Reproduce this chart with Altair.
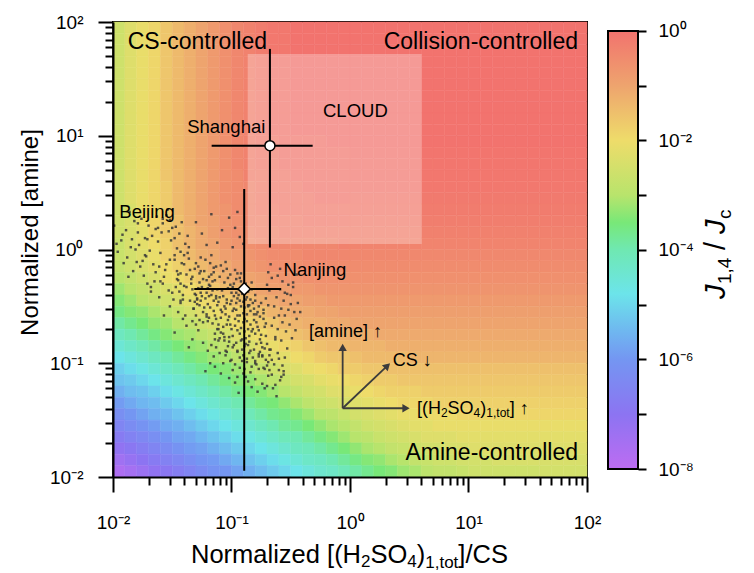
import altair as alt
import pandas as pd

FONT = "Liberation Sans"

# ---------------- heat map: log10(J1,4/Jc) read at 0.1-decade cell centres ----------------
cell_log_x = [round(-1.95 + 0.1 * i, 2) for i in range(40)]          # column centres
cell_log_y = [round(1.95 - 0.1 * i, 2) for i in range(40)]           # row centres, top -> bottom
cell_half = 0.05

top_row = [-2.6, -2.3, -2.1, -1.9, -1.6, -1.4, -1.2, -1.0, -0.8, -0.6,
           -0.4, -0.3, -0.2, -0.1, -0.1, 0.0, 0.0, 0.0, 0.0, 0.0] + [0.0] * 20
cell_values = [top_row] * 10 + [
    [-2.6, -2.3, -2.1, -1.9, -1.6, -1.4, -1.2, -1.0, -0.8, -0.6, -0.4, -0.3, -0.2, -0.2, -0.1, -0.1, -0.1, -0.1, 0.0, 0.0] + [0.0] * 20,
    [-2.6, -2.3, -2.1, -1.9, -1.6, -1.4, -1.2, -1.0, -0.8, -0.6, -0.4, -0.3, -0.2, -0.2, -0.1, -0.1, -0.1, -0.1, -0.1, -0.1] + [-0.05] * 20,
    [-2.6, -2.3, -2.1, -1.9, -1.6, -1.4, -1.2, -1.0, -0.8, -0.6, -0.4, -0.3, -0.2, -0.2, -0.1, -0.1, -0.1, -0.1, -0.1, -0.1] + [-0.07] * 20,
    [-2.6, -2.3, -2.1, -1.9, -1.6, -1.4, -1.2, -1.0, -0.8, -0.6, -0.5, -0.3, -0.3, -0.2, -0.2, -0.1, -0.1, -0.1, -0.1, -0.1] + [-0.09] * 20,
    [-2.6, -2.3, -2.1, -1.9, -1.7, -1.4, -1.2, -1.0, -0.8, -0.6, -0.5, -0.4, -0.3, -0.2, -0.2, -0.2, -0.1, -0.1, -0.1, -0.1] + [-0.11] * 20,
    [-2.6, -2.3, -2.1, -1.9, -1.7, -1.4, -1.2, -1.0, -0.8, -0.6, -0.5, -0.4, -0.3, -0.2, -0.2, -0.2, -0.2, -0.1, -0.1, -0.1] + [-0.14] * 20,
    [-2.6, -2.4, -2.1, -1.9, -1.7, -1.4, -1.2, -1.0, -0.8, -0.7, -0.5, -0.4, -0.3, -0.3, -0.2, -0.2, -0.2, -0.2, -0.2, -0.2] + [-0.18] * 20,
    [-2.6, -2.4, -2.1, -1.9, -1.7, -1.5, -1.2, -1.0, -0.9, -0.7, -0.6, -0.4, -0.4, -0.3, -0.3, -0.3, -0.2, -0.2, -0.2, -0.2] + [-0.23] * 20,
    [-2.6, -2.4, -2.2, -1.9, -1.7, -1.5, -1.3, -1.1, -0.9, -0.7, -0.6, -0.5, -0.4, -0.4, -0.3, -0.3, -0.3, -0.3, -0.3, -0.3] + [-0.28] * 20,
    [-2.7, -2.4, -2.2, -2.0, -1.8, -1.5, -1.3, -1.1, -1.0, -0.8, -0.7, -0.6, -0.5, -0.4, -0.4, -0.4, -0.4, -0.4, -0.4, -0.3] + [-0.34] * 20,
    [-2.7, -2.5, -2.3, -2.1, -1.8, -1.6, -1.4, -1.2, -1.1, -0.9, -0.8, -0.7, -0.6, -0.5, -0.5, -0.5, -0.4, -0.4, -0.4, -0.4] + [-0.42] * 20,
    [-2.8, -2.6, -2.4, -2.2, -2.0, -1.8, -1.6, -1.4, -1.2, -1.1, -0.9, -0.8, -0.7, -0.6, -0.6, -0.6, -0.5, -0.5, -0.5, -0.5] + [-0.5] * 20,
    [-3.0, -2.8, -2.6, -2.4, -2.1, -2.0, -1.8, -1.6, -1.4, -1.2, -1.1, -1.0, -0.9, -0.8, -0.7, -0.7, -0.6, -0.6, -0.6, -0.6] + [-0.59] * 20,
    [-3.2, -3.0, -2.8, -2.6, -2.4, -2.2, -2.0, -1.8, -1.6, -1.4, -1.3, -1.2, -1.0, -0.9, -0.9, -0.8, -0.8, -0.7, -0.7, -0.7] + [-0.68] * 20,
    [-3.4, -3.2, -3.0, -2.8, -2.6, -2.4, -2.2, -2.0, -1.9, -1.7, -1.5, -1.4, -1.2, -1.1, -1.0, -1.0, -0.9, -0.9, -0.8, -0.8] + [-0.79] * 20,
    [-3.6, -3.4, -3.3, -3.1, -2.9, -2.7, -2.5, -2.3, -2.1, -1.9, -1.8, -1.6, -1.5, -1.3, -1.2, -1.1, -1.1, -1.0, -1.0, -0.9] + [-0.9] * 20,
    [-3.9, -3.7, -3.5, -3.3, -3.2, -3.0, -2.8, -2.6, -2.4, -2.2, -2.0, -1.9, -1.7, -1.6, -1.4, -1.3, -1.2, -1.2, -1.1, -1.1] + [-1.0] * 20,
    [-4.2, -4.0, -3.8, -3.6, -3.4, -3.2, -3.1, -2.9, -2.7, -2.5, -2.3, -2.1, -2.0, -1.8, -1.7, -1.5, -1.4, -1.3, -1.3, -1.2] + [-1.2, -1.2] + [-1.1] * 18,
    [-4.5, -4.3, -4.1, -3.9, -3.7, -3.5, -3.3, -3.2, -3.0, -2.8, -2.6, -2.4, -2.2, -2.1, -1.9, -1.8, -1.6, -1.5, -1.4, -1.4] + [-1.3, -1.3, -1.3] + [-1.2] * 17,
    [-4.8, -4.6, -4.4, -4.2, -4.0, -3.8, -3.6, -3.4, -3.2, -3.1, -2.9, -2.7, -2.5, -2.3, -2.2, -2.0, -1.9, -1.7, -1.6, -1.6] + [-1.5, -1.4, -1.4, -1.4, -1.4] + [-1.3] * 15,
    [-5.1, -4.9, -4.7, -4.5, -4.3, -4.1, -3.9, -3.7, -3.5, -3.4, -3.2, -3.0, -2.8, -2.6, -2.4, -2.3, -2.1, -2.0, -1.9, -1.7] + [-1.7, -1.6, -1.6] + [-1.5] * 17,
    [-5.3, -5.2, -5.0, -4.8, -4.6, -4.4, -4.2, -4.0, -3.8, -3.6, -3.4, -3.3, -3.1, -2.9, -2.7, -2.5, -2.4, -2.2, -2.1, -2.0] + [-1.9, -1.8, -1.7, -1.7] + [-1.6] * 16,
    [-5.6, -5.4, -5.3, -5.1, -4.9, -4.7, -4.5, -4.3, -4.1, -3.9, -3.7, -3.5, -3.4, -3.2, -3.0, -2.8, -2.6, -2.5, -2.3, -2.2] + [-2.1, -2.0, -1.9, -1.8, -1.8, -1.8] + [-1.7] * 14,
    [-5.9, -5.7, -5.5, -5.4, -5.2, -5.0, -4.8, -4.6, -4.4, -4.2, -4.0, -3.8, -3.6, -3.5, -3.3, -3.1, -2.9, -2.7, -2.6, -2.4] + [-2.3, -2.2, -2.1, -2.0, -1.9, -1.9, -1.9] + [-1.8] * 13,
    [-6.2, -6.0, -5.8, -5.6, -5.5, -5.3, -5.1, -4.9, -4.7, -4.5, -4.3, -4.1, -3.9, -3.7, -3.6, -3.4, -3.2, -3.0, -2.9, -2.7] + [-2.5, -2.4, -2.3, -2.2, -2.1, -2.1, -2.0, -2.0, -2.0] + [-1.9] * 11,
    [-6.5, -6.3, -6.1, -5.9, -5.7, -5.6, -5.4, -5.2, -5.0, -4.8, -4.6, -4.4, -4.2, -4.0, -3.8, -3.7, -3.5, -3.3, -3.1, -3.0] + [-2.8, -2.6, -2.5, -2.4, -2.3, -2.2, -2.2] + [-2.1] * 13,
    [-6.8, -6.6, -6.4, -6.2, -6.0, -5.8, -5.7, -5.5, -5.3, -5.1, -4.9, -4.7, -4.5, -4.3, -4.1, -4.0, -3.8, -3.6, -3.4, -3.2] + [-3.0, -2.9, -2.7, -2.6, -2.5, -2.4, -2.3, -2.3, -2.3] + [-2.2] * 11,
    [-7.1, -6.9, -6.7, -6.5, -6.3, -6.1, -5.9, -5.8, -5.6, -5.4, -5.2, -5.0, -4.8, -4.6, -4.4, -4.2, -4.1, -3.9, -3.7, -3.5] + [-3.3, -3.1, -3.0, -2.8, -2.7, -2.6, -2.5, -2.5, -2.4, -2.4] + [-2.3] * 10,
    [-7.4, -7.2, -7.0, -6.8, -6.6, -6.4, -6.2, -6.0, -5.9, -5.7, -5.5, -5.3, -5.1, -4.9, -4.7, -4.5, -4.3, -4.2, -4.0, -3.8] + [-3.6, -3.4, -3.3, -3.1, -3.0, -2.8, -2.7, -2.6, -2.6, -2.5, -2.5, -2.5] + [-2.4] * 8,
    [-7.7, -7.5, -7.3, -7.1, -6.9, -6.7, -6.5, -6.3, -6.1, -6.0, -5.8, -5.6, -5.4, -5.2, -5.0, -4.8, -4.6, -4.4, -4.3, -4.1] + [-3.9, -3.7, -3.5, -3.4, -3.2, -3.1, -2.9, -2.8, -2.8, -2.7, -2.6, -2.6, -2.6, -2.6, -2.6, -2.6] + [-2.5] * 4,
]
assert len(cell_values) == 40 and all(len(r) == 40 for r in cell_values)

# ---------------- colour map (log10 value -> colour) ----------------
cmap_values = [-8, -7, -6, -5.5, -4.8, -4, -3.5, -3, -2, -1, 0]
cmap_colors = ["#bd6cf2", "#8c74f2", "#7496f2", "#6fb6f0", "#6ce4ea", "#6fe8b2",
               "#78e878", "#b8e46c", "#eedc6a", "#eea46e", "#f2736e"]

# ---------------- Beijing observations (log10 of normalized values) ----------------
bj_log_x = [
    -1.07, -0.93, -1.21, -0.84, -1.12, -0.99, -1.28, -0.77, -1.03, -1.16, -0.88, -1.31, -0.95, -1.09, -0.81, -1.24, -1.01, -0.91, -1.18, -0.73,
    -1.06, -0.97, -1.33, -0.86, -1.14, -1.22, -0.79, -1.04, -0.92, -1.11, -0.83, -1.27, -0.98, -1.19, -0.89, -1.36, -0.75, -1.08, -0.94, -1.15,
    -1.02, -0.87, -1.25, -0.80, -1.13, -0.96, -1.30, -0.71, -1.05, -1.20, -0.90, -1.17, -0.85, -1.00, -1.34, -0.78, -1.10, -0.95, -1.23, -0.82,
    -1.07, -0.99, -1.29, -0.74, -1.12, -0.93, -1.18, -0.88, -1.04, -1.26, -0.81, -1.14, -0.97, -1.21, -0.86, -1.09, -0.77, -1.02, -1.32, -0.91,
    -1.16, -0.84, -1.06, -0.94, -1.24, -0.72, -1.11, -0.98, -1.19, -0.89, -1.03, -1.28, -0.80, -1.13, -0.96, -1.35, -0.87, -1.08, -0.76, -1.20,
    -1.00, -0.92, -1.15, -0.83, -1.27, -1.05, -0.90, -1.22, -0.79, -1.10, -0.95, -1.17, -0.85, -1.31, -1.01, -0.73, -1.13, -0.97, -1.25, -0.88,
    -1.52, -1.67, -1.43, -1.78, -1.58, -1.47, -1.89, -1.61, -1.39, -1.72, -1.55, -1.83, -1.44, -1.65, -1.93, -1.50, -1.76, -1.41, -1.69, -1.57,
    -1.86, -1.46, -1.62, -1.80, -1.53, -1.70, -1.40, -1.96, -1.59, -1.48, -1.74, -1.63, -1.42, -1.85, -1.56, -1.68, -1.45, -1.79, -1.51, -1.91,
    -1.60, -1.38, -1.73, -1.54, -1.66, -1.82, -1.49, -1.71, -1.37, -1.58, -1.88, -1.64, -1.43, -1.77, -1.52, -1.99, -1.40, -1.84, -1.61, -1.47,
    -0.82, -0.68, -0.95, -0.74, -1.05, -0.61, -0.88, -0.70, -1.13, -0.57, -0.79, -0.93, -0.65, -1.00, -0.76, -0.59, -0.86, -1.18, -0.71, -0.97,
    -0.63, -0.84, -1.09, -0.67, -0.90, -0.55, -0.78, -1.03, -0.69, -0.92, -0.60, -0.81, -1.15, -0.73, -0.99, -0.53, -0.87, -0.66, -1.22, -0.75,
    -0.94, -0.58, -0.80, -1.07, -0.64, -0.89, -0.72, -1.11, -0.62, -0.85, -0.96, -0.70, -1.02, -0.77, -0.56, -0.91, -1.20, -0.68, -0.83, -1.04,
    -0.62, -0.55, -0.48, -0.66, -0.51, -0.44, -0.59, -0.69, -0.53, -0.46, -0.64, -0.57, -0.42, -0.68, -0.50, -0.61, -0.45, -0.58, -0.67, -0.52,
    -1.02, -0.97, -0.93, -1.12, -1.25, -0.99, -1.30, -1.08, -0.90, -1.17, -1.21, -0.95,
    -1.45, -1.38, -1.52, -1.33, -1.28, -1.41, -1.57, -1.36, -1.24, -1.48, -1.30, -1.43,
    -1.06, -0.94, -1.15, -0.87, -1.01, -1.23, -0.78, -1.09, -0.96, -1.19, -0.84, -1.04, -1.27, -0.91, -1.12, -0.81, -1.00, -1.17, -0.89, -1.30,
    -1.03, -0.93, -1.14, -0.86, -1.21, -0.98, -0.76, -1.10, -0.95, -1.26, -0.83, -1.07, -0.90, -1.16, -0.99, -1.33, -0.80, -1.05, -0.92, -1.20,
    -1.04, -0.89, -1.18, -0.82, -1.09, -0.96, -1.26, -0.75, -1.01, -1.13, -0.86, -1.29, -0.93, -1.06, -0.79, -1.21, -0.98, -0.88, -1.15, -0.71,
    -0.91, -1.11, -0.77, -1.02, -0.87, -1.19, -0.69, -0.95, -1.07, -0.83, -1.24, -0.74, -0.99, -1.14, -0.80, -0.92, -1.05, -0.72, -0.85, -1.17,
    -1.55, -1.71, -1.46, -1.81, -1.62, -1.50, -1.92, -1.64, -1.36, -1.75, -1.58, -1.87, -1.48, -1.68, -1.97, -1.53, -1.79, -1.43, -1.73, -1.60,
    -1.34, -1.42, -1.30, -1.38, -1.46, -1.32, -1.40, -1.27, -1.44, -1.35, -1.48, -1.31, -1.39, -1.26, -1.43, -1.37, -1.29, -1.45, -1.33, -1.41,
    -0.80, -0.66, -0.93, -0.72, -1.01, -0.60, -0.86, -0.68, -1.10, -0.56, -0.77, -0.90, -0.63, -0.97, -0.74, -0.58, -0.84, -1.14, -0.70, -0.95,
    -0.64, -0.57, -0.50, -0.70, -0.54, -0.47, -0.61, -0.73, -0.56, -0.49, -0.66, -0.59, -0.45, -0.71, -0.52, -0.63, -0.48, -0.60, -0.69, -0.55,
]
bj_log_y = [
    -0.41, -0.58, -0.27, -0.66, -0.49, -0.33, -0.15, -0.71, -0.62, -0.36, -0.44, -0.39, -0.21, -0.73, -0.52, -0.55, -0.48, -0.79, -0.12, -0.61,
    -0.29, -0.67, -0.24, -0.37, -0.58, -0.43, -0.83, -0.17, -0.50, -0.66, -0.29, -0.49, -0.41, -0.31, -0.72, -0.08, -0.47, -0.55, -0.35, -0.20,
    -0.77, -0.57, -0.33, -0.40, -0.43, -0.26, -0.58, -0.76, -0.52, -0.63, -0.64, -0.05, -0.81, -0.38, -0.30, -0.55, -0.24, -0.71, -0.19, -0.47,
    -0.68, -0.54, -0.44, -0.86, -0.35, -0.45, -0.51, -0.30, -0.44, -0.07, -0.62, -0.74, -0.18, -0.38, -0.70, -0.14, -0.50, -0.59, -0.52, -0.39,
    -0.28, -0.54, -0.80, -0.63, -0.26, -0.68, -0.46, -0.84, -0.41, -0.51, -0.25, -0.34, -0.74, -0.61, -0.47, -0.18, -0.42, -0.36, -0.59, -0.48,
    -0.70, -0.28, -0.54, -0.35, -0.62, -0.11, -0.56, -0.09, -0.64, -0.78, -0.43, -0.22, -0.49, -0.46, -0.31, -0.53, -0.15, -0.61, -0.41, -0.78,
    -0.09, 0.12, -0.21, 0.04, 0.23, -0.33, 0.17, -0.15, 0.05, -0.06, 0.30, -0.19, 0.14, -0.28, 0.08, 0.19, 0.27, -0.40, -0.01, -0.24,
    0.33, 0.01, 0.07, -0.11, -0.36, 0.21, -0.13, -0.02, 0.15, -0.05, -0.23, 0.29, 0.24, 0.02, -0.18, -0.37, -0.27, 0.15, 0.08, -0.12,
    -0.03, -0.22, 0.10, 0.35, -0.13, 0.25, -0.44, -0.30, 0.12, -0.30, -0.07, 0.18, -0.02, -0.15, 0.26, 0.21, -0.32, 0.09, -0.42, 0.20,
    -0.95, -1.06, -0.89, -1.18, -0.93, -0.91, -1.12, -0.83, -0.86, -1.02, -1.01, -1.04, -1.22, -0.97, -0.90, -1.15, -0.84, -1.00, -0.97, -1.17,
    -0.79, -1.08, -1.09, -0.88, -0.93, -0.95, -1.25, -0.85, -1.11, -0.80, -1.06, -0.88, -0.94, -1.04, -1.06, -0.87, -0.99, -0.97, -1.07, -0.82,
    -1.26, -0.80, -1.14, -1.00, -1.01, -1.05, -0.87, -0.80, -1.29, -0.91, -0.82, -1.20, -1.13, -0.94, -1.10, -0.98, -0.89, -0.93, -1.21, -0.90,
    -0.42, -0.58, -0.33, -0.25, -0.66, -0.47, -0.17, -0.49, -0.39, -0.71, -0.60, -0.28, -0.55, -0.36, -0.48, -0.70, -0.22, -0.52, -0.13, -0.31,
    0.28, 0.19, 0.11, 0.06, 0.14, 0.02, 0.24, 0.17, 0.05, 0.31, 0.04, 0.33,
    -0.55, -0.67, -0.50, -0.79, -0.71, -0.61, -0.58, -0.86, -0.82, -0.73, -0.66, -0.47,
    -0.50, -0.40, -0.45, -0.63, -0.22, -0.51, -0.68, -0.60, -0.53, -0.24, -0.44, -0.66, -0.21, -0.33, -0.70, -0.57, -0.45, -0.40, -0.85, -0.12,
    -0.34, -0.74, -0.27, -0.50, -0.57, -0.30, -0.79, -0.42, -0.58, -0.45, -0.72, -0.19, -0.46, -0.65, -0.76, -0.35, -0.45, -0.57, -0.21, -0.34,
    -0.47, -0.61, -0.32, -0.70, -0.53, -0.38, -0.19, -0.75, -0.66, -0.41, -0.49, -0.43, -0.25, -0.77, -0.57, -0.59, -0.52, -0.83, -0.16, -0.65,
    -0.88, -0.70, -0.92, -0.81, -0.96, -0.60, -0.99, -0.90, -0.74, -1.03, -0.64, -0.93, -0.86, -0.79, -0.98, -0.69, -0.89, -1.05, -0.76, -0.84,
    -0.13, 0.09, -0.26, 0.00, 0.19, -0.38, 0.13, -0.20, 0.02, -0.10, 0.27, -0.24, 0.10, -0.33, 0.05, 0.16, 0.23, -0.45, -0.05, -0.28,
    -0.26, -0.12, -0.40, -0.33, -0.19, -0.52, -0.05, -0.29, -0.37, -0.45, -0.09, -0.17, -0.58, -0.38, -0.30, -0.03, -0.48, -0.22, -0.63, -0.44,
    -1.00, -1.10, -0.95, -1.22, -0.98, -0.96, -1.16, -0.88, -0.91, -1.07, -1.05, -1.09, -1.19, -1.01, -0.94, -1.12, -0.89, -1.03, -1.02, -1.12,
    -0.50, -0.64, -0.40, -0.31, -0.72, -0.55, -0.23, -0.56, -0.45, -0.78, -0.67, -0.35, -0.61, -0.43, -0.53, -0.77, -0.29, -0.58, -0.20, -0.38,
]
assert len(bj_log_x) == len(bj_log_y)

# ---------------- site medians and ranges ----------------
site_x = [0.211, 0.128]
site_y = [8.18, 0.45]
site_x_lo = [0.068, 0.0485]
site_x_hi = [0.484, 0.262]
site_y_lo = [1.04, 0.01135]
site_y_hi = [58.0, 3.4]
site_shape = ["circle", "diamond"]
site_size = [100, 150]

# CLOUD chamber range
cloud_x = [0.137, 4.03]
cloud_y = [1.12, 52.3]

# direction arrows: origin, shaft ends, heads
arrow_x0 = 0.867
arrow_y0 = 0.0402
shaft_x = [0.867, 2.86, 2.01]
shaft_y = [0.133, 0.0402, 0.0925]
head_x = [0.867, 2.97, 2.07]
head_y = [0.138, 0.0402, 0.0951]
head_angle = [0, 90, 46.4]

# annotations
left_text = ["CS-controlled", "Beijing", "Nanjing", "[amine] \u2191", "CS \u2193"]
left_x = [0.0133, 0.0113, 0.275, 0.451, 2.29]
left_y = [66.3, 2.12, 0.664, 0.188, 0.105]
left_fs = [23, 18.5, 18.5, 18, 18]
right_text = ["Collision-controlled", "Amine-controlled", "Shanghai"]
right_x = [84.0, 84.0, 0.193]
right_y = [66.3, 0.01626, 11.9]
right_fs = [23, 23, 18.5]
center_text = ["CLOUD"]
center_x = [1.11]
center_y = [16.6]
center_fs = [18.5]

# "[(H2SO4)1,tot] ↑" arrow label, written piece by piece (text, dx, dy, font size)
h2so4_anchor = (3.67, 0.0396)
h2so4_parts = [("[(H", 0, 0, 18), ("2", 24.0, 4, 12), ("SO", 30.7, 0, 18), ("4", 56.7, 4, 12),
               (")", 63.4, 0, 18), ("1,tot", 69.4, 4, 12), ("] \u2191", 92.8, 0, 18)]
# x-axis title pieces (text, x px from plot left, baseline px from plot top, font size)
xtitle_parts = [("Normalized [(H", 78.0, 541, 25.5), ("2", 248.0, 545, 17), ("SO", 257.45, 541, 25.5),
                ("4", 294.3, 545, 17), (")", 303.75, 541, 25.5), ("1,tot", 312.24, 546, 17),
                ("]/CS", 345.34, 541, 25.5)]

tick_values = [m * 10.0 ** k for k in (-2, -1, 0, 1) for m in range(1, 10)] + [100.0]
cbar_ticks = [1e-8, 1e-7, 1e-6, 1e-5, 1e-4, 1e-3, 1e-2, 1e-1, 1.0]

# ---------------- tables ----------------
heat_rows = []
for i, ly in enumerate(cell_log_y):
    for j, lx in enumerate(cell_log_x):
        heat_rows.append({"x": 10 ** (lx - cell_half), "x2": 10 ** (lx + cell_half),
                          "y": 10 ** (ly - cell_half), "y2": 10 ** (ly + cell_half),
                          "v": cell_values[i][j]})
heat_df = pd.DataFrame(heat_rows)
bj_df = pd.DataFrame({"x": [10 ** v for v in bj_log_x], "y": [10 ** v for v in bj_log_y]})
site_df = pd.DataFrame({"x": site_x, "y": site_y, "shape": site_shape, "sz": site_size})
err_rows = []
for k in range(len(site_x)):
    err_rows.append({"x": site_x_lo[k], "x2": site_x_hi[k], "y": site_y[k], "y2": site_y[k]})
    err_rows.append({"x": site_x[k], "x2": site_x[k], "y": site_y_lo[k], "y2": site_y_hi[k]})
err_df = pd.DataFrame(err_rows)
cloud_df = pd.DataFrame({"x": [cloud_x[0]], "x2": [cloud_x[1]], "y": [cloud_y[0]], "y2": [cloud_y[1]]})
shaft_df = pd.DataFrame({"x": [arrow_x0] * 3, "x2": shaft_x, "y": [arrow_y0] * 3, "y2": shaft_y})
head_df = pd.DataFrame({"x": head_x, "y": head_y, "ang": head_angle})
left_df = pd.DataFrame({"t": left_text, "x": left_x, "y": left_y, "fs": left_fs})
right_df = pd.DataFrame({"t": right_text, "x": right_x, "y": right_y, "fs": right_fs})
center_df = pd.DataFrame({"t": center_text, "x": center_x, "y": center_y, "fs": center_fs})
anchor_df = pd.DataFrame({"x": [h2so4_anchor[0]], "y": [h2so4_anchor[1]]})
one = pd.DataFrame({"a": [0]})

# ---------------- scales and axes ----------------
xs = alt.Scale(type="log", domain=[0.01, 100], nice=False)
ys = alt.Scale(type="log", domain=[0.01, 100], nice=False)
color_scale = alt.Scale(domain=cmap_values, range=cmap_colors, interpolate="rgb", clamp=True)

main_label_expr = ("datum.value == 0.01 ? '10\u207b\u00b2' : datum.value == 0.1 ? '10\u207b\u00b9' : "
                   "datum.value == 1 ? '10\u2070' : datum.value == 10 ? '10\u00b9' : "
                   "datum.value == 100 ? '10\u00b2' : ''")
major_test = "indexof([0.01, 0.1, 1, 10, 100], datum.value) >= 0"


def main_axis(title, label_pad, title_pad, **kw):
    return alt.Axis(title=title, values=tick_values, labelExpr=main_label_expr,
                    tickSize={"condition": {"test": major_test, "value": 15}, "value": 8},
                    tickWidth=2, tickColor="black", domainColor="black", domainWidth=2,
                    grid=False, labelFont=FONT, labelFontSize=19, labelColor="black",
                    labelPadding=label_pad, labelFlush=False, labelOverlap=False,
                    titleFont=FONT, titleFontSize=24, titleFontWeight="normal",
                    titleColor="black", titlePadding=title_pad, zindex=1, **kw)


x_axis = main_axis(None, 21, 16)
y_axis = main_axis("Normalized [amine]", 15, 7, titleY=210)


def X(f):
    return alt.X(f, type="quantitative", scale=xs, axis=x_axis)


def Y(f):
    return alt.Y(f, type="quantitative", scale=ys, axis=y_axis)


heat = alt.Chart(heat_df).mark_rect(strokeWidth=0.5).encode(
    x=X("x"), x2="x2", y=Y("y"), y2="y2",
    color=alt.Color("v:Q", scale=color_scale, legend=None),
    stroke=alt.Stroke("v:Q", scale=color_scale, legend=None))

cloud = alt.Chart(cloud_df).mark_rect(color="white", opacity=0.28).encode(
    x=X("x"), x2="x2", y=Y("y"), y2="y2")

scatter = alt.Chart(bj_df).mark_square(size=6, color="#383838", opacity=0.85).encode(
    x=X("x"), y=Y("y"))

err = alt.Chart(err_df).mark_rule(color="black", strokeWidth=2).encode(
    x=X("x"), x2="x2", y=Y("y"), y2="y2")

markers = alt.Chart(site_df).mark_point(filled=True, fill="white", stroke="black",
                                        strokeWidth=1.5, opacity=1).encode(
    x=X("x"), y=Y("y"), shape=alt.Shape("shape:N", scale=None),
    size=alt.Size("sz:Q", scale=None))

shafts = alt.Chart(shaft_df).mark_rule(color="#3c3c3c", strokeWidth=1.8).encode(
    x=X("x"), x2="x2", y=Y("y"), y2="y2")

heads = alt.Chart(head_df).mark_point(shape="triangle-up", filled=True, color="#3c3c3c",
                                      size=70, opacity=1).encode(
    x=X("x"), y=Y("y"), angle=alt.Angle("ang:Q", scale=None))


def text_layer(df, align):
    return alt.Chart(df).mark_text(align=align, baseline="middle", font=FONT, color="black").encode(
        x=X("x"), y=Y("y"), text="t:N", size=alt.Size("fs:Q", scale=None))


h2so4_layers = [
    alt.Chart(anchor_df).mark_text(text=t, dx=dx, dy=dy, fontSize=fs, align="left", baseline="middle",
                                   font=FONT, color="black").encode(x=X("x"), y=Y("y"))
    for t, dx, dy, fs in h2so4_parts
]
xtitle_layers = [
    alt.Chart(one).mark_text(text=t, fontSize=fs, align="left", baseline="alphabetic",
                             font=FONT, color="black").encode(x=alt.value(px), y=alt.value(py))
    for t, px, py, fs in xtitle_parts
]

main = alt.layer(
    heat, cloud, scatter, err, markers, shafts, heads,
    text_layer(left_df, "left"), text_layer(right_df, "right"), text_layer(center_df, "center"),
    *h2so4_layers, *xtitle_layers,
).properties(width=474, height=455, view=alt.ViewBackground(stroke="black", strokeWidth=2))

# ---------------- colour bar ----------------
cb_scale = alt.Scale(type="log", domain=[10 ** -8.146, 10 ** 0.164], nice=False)
cb_label_expr = ("datum.value == 1 ? '10\u2070' : datum.value == 0.01 ? '10\u207b\u00b2' : "
                 "datum.value == 0.0001 ? '10\u207b\u2074' : datum.value == 0.000001 ? '10\u207b\u2076' : "
                 "datum.value == 1e-8 ? '10\u207b\u2078' : ''")
cb_axis = alt.Axis(orient="right", values=cbar_ticks, labelExpr=cb_label_expr, tickSize=8,
                   tickWidth=2, tickColor="black", domain=False, grid=False, labelFont=FONT,
                   labelFontSize=19, labelColor="black", labelPadding=12, labelFlush=False,
                   labelOverlap=False, title=None, zindex=1)
stops = [alt.GradientStop(color=c, offset=(v + 8) / 8) for v, c in zip(cmap_values, cmap_colors)]
cbar_df = pd.DataFrame({"lo": [1e-8], "hi": [1.0]})
cbar_rect = alt.Chart(cbar_df).mark_rect(
    color=alt.Gradient(gradient="linear", stops=stops, x1=0, x2=0, y1=1, y2=0),
    stroke="black", strokeWidth=2).encode(
    y=alt.Y("lo:Q", scale=cb_scale, axis=cb_axis), y2="hi:Q", x=alt.value(0), x2=alt.value(30))


def title_part(txt, px, py, fs, style):
    return alt.Chart(one).mark_text(text=txt, angle=270, align="left", baseline="alphabetic",
                                    font=FONT, fontSize=fs, fontStyle=style, color="black").encode(
        x=alt.value(px), y=alt.value(py))


cbar = alt.layer(
    cbar_rect,
    title_part("J", 117, 277, 29, "italic"),
    title_part("1,4", 123, 262, 19, "normal"),
    title_part("/", 117, 228, 29, "normal"),
    title_part("J", 117, 212, 29, "italic"),
    title_part("c", 123, 197, 19, "normal"),
).properties(width=30, height=455, view=alt.ViewBackground(stroke="transparent"))

chart = alt.hconcat(main, cbar, spacing=4).properties(
    padding={"left": 9, "top": 4, "right": 0, "bottom": 0}
).configure_view(stroke="transparent")

chart.save("out.html", embed_options={"renderer": "svg", "actions": False})
